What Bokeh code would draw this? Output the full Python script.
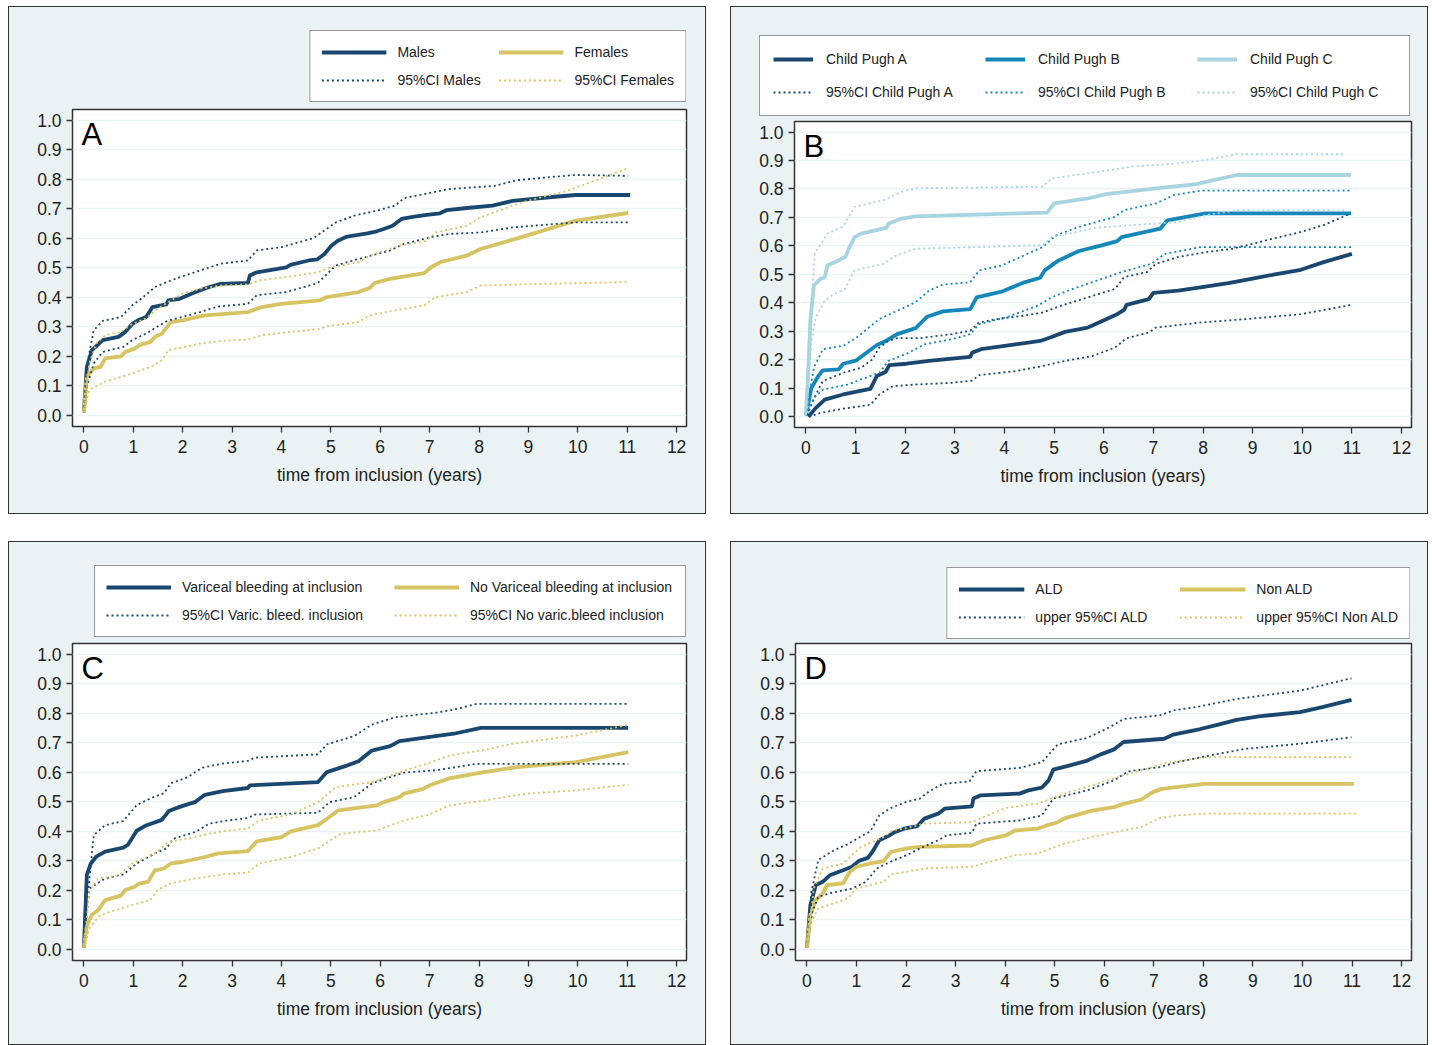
from bokeh.plotting import figure
from bokeh.models import Legend, LegendItem, FixedTicker, Range1d, Label, NumeralTickFormatter
from bokeh.layouts import row, column
from bokeh.embed import file_html
from bokeh.resources import INLINE

# ---------------- data ----------------
x_ticks = [0, 1, 2, 3, 4, 5, 6, 7, 8, 9, 10, 11, 12]
y_ticks = [0.0, 0.1, 0.2, 0.3, 0.4, 0.5, 0.6, 0.7, 0.8, 0.9, 1.0]
x_title = "time from inclusion (years)"

# Panel A
a_males_t = [0, 0.06, 0.16, 0.38, 0.7, 0.84, 0.98, 1.12, 1.26, 1.39, 1.67, 1.71, 1.94, 2.26, 2.54, 2.77, 3.32, 3.36, 3.5, 4.1, 4.18, 4.55, 4.73, 4.87, 5.01, 5.14, 5.33, 5.74, 5.93, 6.07, 6.25, 6.43, 6.66, 6.94, 7.21, 7.35, 7.76, 8.27, 8.68, 9.14, 9.6, 9.96, 11.06]
a_males_v = [0.01, 0.164, 0.22, 0.255, 0.266, 0.283, 0.31, 0.324, 0.333, 0.367, 0.376, 0.39, 0.395, 0.418, 0.435, 0.446, 0.449, 0.474, 0.485, 0.502, 0.51, 0.525, 0.529, 0.547, 0.575, 0.592, 0.606, 0.617, 0.624, 0.632, 0.643, 0.666, 0.673, 0.68, 0.685, 0.696, 0.703, 0.711, 0.727, 0.735, 0.742, 0.747, 0.747]
a_males_hi_t = [0, 0.05, 0.2, 0.38, 0.75, 0.98, 1.16, 1.44, 1.71, 1.99, 2.35, 2.77, 3.32, 3.5, 4.0, 4.65, 5.1, 5.47, 5.93, 6.3, 6.48, 6.94, 7.39, 8.31, 8.77, 9.32, 9.96, 11.02]
a_males_hi_v = [0.01, 0.16, 0.288, 0.32, 0.333, 0.373, 0.395, 0.435, 0.454, 0.471, 0.491, 0.514, 0.525, 0.559, 0.57, 0.601, 0.654, 0.677, 0.694, 0.711, 0.736, 0.752, 0.767, 0.778, 0.797, 0.806, 0.815, 0.812]
a_males_lo_t = [0, 0.06, 0.2, 0.38, 0.8, 0.98, 1.26, 1.53, 1.71, 1.99, 2.35, 2.72, 3.32, 3.5, 4.1, 4.73, 5.1, 5.56, 6.2, 6.48, 7.03, 7.39, 8.03, 8.68, 9.32, 9.96, 11.02]
a_males_lo_v = [0.01, 0.097, 0.176, 0.215, 0.232, 0.255, 0.277, 0.305, 0.322, 0.333, 0.35, 0.369, 0.378, 0.407, 0.418, 0.448, 0.508, 0.53, 0.559, 0.581, 0.604, 0.615, 0.62, 0.637, 0.646, 0.654, 0.654]
a_fem_t = [0, 0.06, 0.2, 0.34, 0.43, 0.75, 0.84, 1.03, 1.12, 1.35, 1.44, 1.58, 1.76, 1.99, 2.45, 3.32, 3.6, 4.0, 4.78, 4.92, 5.56, 5.79, 5.88, 6.2, 6.89, 7.03, 7.21, 7.76, 8.03, 8.86, 9.96, 11.02]
a_fem_v = [0.01, 0.13, 0.159, 0.164, 0.193, 0.2, 0.215, 0.226, 0.238, 0.249, 0.266, 0.277, 0.316, 0.322, 0.339, 0.35, 0.367, 0.378, 0.39, 0.401, 0.418, 0.432, 0.448, 0.463, 0.482, 0.502, 0.519, 0.542, 0.564, 0.604, 0.66, 0.686]
a_fem_hi_t = [0, 0.11, 0.25, 0.43, 0.75, 0.98, 1.26, 1.49, 1.71, 1.99, 2.35, 2.77, 3.32, 3.55, 4.18, 4.73, 5.01, 5.56, 5.79, 6.39, 6.94, 7.12, 7.76, 8.03, 8.86, 9.78, 11.02]
a_fem_hi_v = [0.01, 0.176, 0.243, 0.271, 0.283, 0.31, 0.328, 0.361, 0.384, 0.412, 0.429, 0.44, 0.444, 0.457, 0.471, 0.485, 0.502, 0.519, 0.542, 0.575, 0.592, 0.62, 0.643, 0.671, 0.722, 0.761, 0.838]
a_fem_lo_t = [0, 0.11, 0.29, 0.43, 0.98, 1.35, 1.58, 1.71, 1.99, 2.35, 2.77, 3.32, 3.6, 4.18, 4.73, 4.92, 5.56, 5.79, 6.11, 6.89, 7.12, 7.76, 8.03, 8.86, 9.96, 11.02]
a_fem_lo_v = [0.01, 0.086, 0.102, 0.114, 0.142, 0.164, 0.187, 0.221, 0.23, 0.243, 0.252, 0.257, 0.271, 0.283, 0.291, 0.302, 0.316, 0.339, 0.35, 0.373, 0.401, 0.418, 0.44, 0.444, 0.448, 0.452]

# Panel B
b_a_t = [0.05, 0.2, 0.38, 0.75, 1.07, 1.3, 1.43, 1.61, 1.68, 2.03, 2.48, 2.94, 3.31, 3.35, 3.53, 4.22, 4.72, 4.95, 5.22, 5.68, 5.96, 6.27, 6.41, 6.46, 6.91, 7.0, 7.5, 8.05, 8.51, 8.97, 9.42, 9.97, 10.43, 11.0]
b_a_v = [0.0, 0.031, 0.06, 0.078, 0.09, 0.098, 0.143, 0.158, 0.181, 0.186, 0.196, 0.204, 0.21, 0.225, 0.237, 0.254, 0.266, 0.28, 0.298, 0.313, 0.335, 0.36, 0.375, 0.393, 0.413, 0.435, 0.443, 0.457, 0.469, 0.484, 0.499, 0.516, 0.543, 0.572]
b_a_hi_t = [0.02, 0.2, 0.34, 0.75, 1.11, 1.34, 1.48, 1.66, 1.84, 2.3, 2.94, 3.31, 3.49, 3.85, 4.4, 4.77, 5.14, 5.68, 6.23, 6.41, 6.87, 7.05, 7.5, 8.05, 8.6, 9.33, 9.97, 10.43, 10.98]
b_a_hi_v = [0.005, 0.078, 0.125, 0.154, 0.172, 0.201, 0.243, 0.266, 0.276, 0.276, 0.29, 0.302, 0.331, 0.343, 0.355, 0.366, 0.39, 0.419, 0.449, 0.49, 0.508, 0.537, 0.561, 0.578, 0.59, 0.622, 0.649, 0.673, 0.714]
b_a_lo_t = [0.06, 0.29, 0.75, 1.3, 1.48, 1.75, 2.21, 2.94, 3.35, 3.49, 4.22, 4.77, 5.22, 5.77, 6.23, 6.46, 6.91, 7.05, 7.96, 8.88, 9.97, 11.0]
b_a_lo_v = [0.0, 0.013, 0.028, 0.042, 0.078, 0.107, 0.113, 0.119, 0.127, 0.146, 0.16, 0.178, 0.196, 0.213, 0.243, 0.276, 0.296, 0.313, 0.331, 0.343, 0.36, 0.393]
b_b_t = [0.0, 0.11, 0.25, 0.34, 0.66, 0.75, 1.02, 1.16, 1.43, 1.61, 1.84, 2.21, 2.44, 2.76, 3.31, 3.44, 3.94, 4.4, 4.72, 4.81, 5.09, 5.5, 5.96, 6.27, 6.36, 7.14, 7.28, 8.05, 10.98]
b_b_v = [0.005, 0.101, 0.143, 0.163, 0.166, 0.186, 0.198, 0.217, 0.252, 0.266, 0.29, 0.311, 0.351, 0.37, 0.378, 0.419, 0.439, 0.472, 0.488, 0.514, 0.549, 0.582, 0.602, 0.617, 0.631, 0.661, 0.69, 0.714, 0.714]
b_b_hi_t = [0.0, 0.16, 0.34, 0.75, 1.02, 1.48, 1.84, 2.21, 2.48, 2.76, 3.31, 3.49, 3.94, 4.4, 4.77, 5.04, 5.5, 6.23, 6.41, 7.05, 7.42, 7.96, 10.98]
b_b_hi_v = [0.005, 0.172, 0.237, 0.249, 0.278, 0.343, 0.372, 0.402, 0.443, 0.464, 0.472, 0.514, 0.531, 0.567, 0.596, 0.637, 0.667, 0.702, 0.726, 0.749, 0.779, 0.794, 0.794]
b_b_lo_t = [0.0, 0.16, 0.34, 0.84, 1.11, 1.48, 1.66, 2.03, 2.39, 2.94, 3.31, 3.49, 4.04, 4.67, 4.95, 5.31, 5.96, 6.36, 6.96, 7.23, 7.96, 10.98]
b_b_lo_v = [0.005, 0.066, 0.095, 0.113, 0.131, 0.154, 0.196, 0.221, 0.254, 0.272, 0.29, 0.325, 0.349, 0.39, 0.419, 0.445, 0.484, 0.508, 0.537, 0.572, 0.596, 0.596]
b_c_t = [0.0, 0.05, 0.09, 0.16, 0.29, 0.38, 0.43, 0.66, 0.79, 0.88, 0.98, 1.11, 1.62, 1.66, 1.93, 2.21, 4.86, 5.0, 5.68, 6.05, 7.05, 7.87, 8.23, 8.69, 10.98]
b_c_v = [0.005, 0.172, 0.337, 0.461, 0.484, 0.49, 0.531, 0.549, 0.561, 0.596, 0.631, 0.643, 0.663, 0.678, 0.696, 0.704, 0.717, 0.749, 0.767, 0.782, 0.802, 0.817, 0.832, 0.849, 0.849]
b_c_hi_t = [0.0, 0.05, 0.11, 0.18, 0.43, 0.75, 0.98, 1.57, 1.93, 2.21, 4.77, 4.95, 5.68, 6.59, 7.5, 8.05, 8.69, 10.84]
b_c_hi_v = [0.005, 0.231, 0.408, 0.572, 0.643, 0.667, 0.737, 0.761, 0.79, 0.802, 0.808, 0.837, 0.855, 0.879, 0.89, 0.902, 0.922, 0.922]
b_c_lo_t = [0.0, 0.05, 0.11, 0.2, 0.38, 0.57, 0.79, 0.98, 1.57, 1.75, 2.21, 4.77, 4.95, 5.86, 7.5, 8.05, 8.69, 10.84]
b_c_lo_v = [0.005, 0.113, 0.266, 0.349, 0.408, 0.431, 0.449, 0.514, 0.537, 0.561, 0.59, 0.602, 0.631, 0.664, 0.684, 0.708, 0.725, 0.725]

# Panel C
c_v_t = [0, 0.06, 0.14, 0.25, 0.43, 0.8, 0.89, 1.07, 1.26, 1.58, 1.72, 1.94, 2.26, 2.45, 2.81, 3.32, 3.36, 4.74, 4.92, 5.29, 5.56, 5.83, 6.2, 6.39, 7.12, 7.49, 8.04, 11.02]
c_v_v = [0.005, 0.252, 0.291, 0.314, 0.331, 0.345, 0.354, 0.402, 0.42, 0.439, 0.469, 0.483, 0.5, 0.524, 0.536, 0.547, 0.556, 0.567, 0.601, 0.621, 0.638, 0.674, 0.689, 0.706, 0.723, 0.731, 0.751, 0.751]
c_v_hi_t = [0, 0.08, 0.2, 0.43, 0.8, 1.07, 1.35, 1.62, 1.76, 2.08, 2.4, 2.81, 3.32, 3.46, 4.74, 4.92, 5.47, 5.83, 6.3, 7.12, 7.49, 7.95, 11.02]
c_v_hi_v = [0.005, 0.184, 0.387, 0.421, 0.435, 0.489, 0.512, 0.529, 0.563, 0.582, 0.616, 0.63, 0.639, 0.65, 0.661, 0.695, 0.723, 0.762, 0.787, 0.802, 0.813, 0.832, 0.832]
c_v_lo_t = [0, 0.11, 0.43, 0.8, 1.07, 1.44, 1.67, 1.81, 2.26, 2.54, 2.91, 3.32, 3.46, 4.74, 4.97, 5.47, 5.83, 6.2, 6.48, 7.12, 7.95, 11.02]
c_v_lo_v = [0.005, 0.206, 0.24, 0.254, 0.291, 0.325, 0.342, 0.375, 0.398, 0.426, 0.437, 0.445, 0.457, 0.463, 0.499, 0.516, 0.562, 0.584, 0.599, 0.607, 0.629, 0.629]
c_n_t = [0, 0.06, 0.16, 0.29, 0.43, 0.75, 0.84, 1.03, 1.12, 1.3, 1.44, 1.62, 1.76, 1.99, 2.45, 2.72, 3.32, 3.5, 4.0, 4.19, 4.74, 4.92, 5.15, 5.93, 6.07, 6.39, 6.48, 6.85, 7.03, 7.4, 8.04, 8.77, 9.96, 11.02]
c_n_v = [0.005, 0.079, 0.116, 0.133, 0.167, 0.182, 0.201, 0.212, 0.223, 0.229, 0.268, 0.274, 0.291, 0.296, 0.313, 0.325, 0.333, 0.366, 0.38, 0.4, 0.421, 0.443, 0.471, 0.488, 0.499, 0.516, 0.528, 0.543, 0.558, 0.58, 0.599, 0.618, 0.635, 0.669]
c_n_hi_t = [0, 0.11, 0.29, 0.71, 0.98, 1.44, 1.71, 2.08, 2.54, 2.81, 3.32, 3.55, 4.19, 4.74, 5.1, 5.83, 6.39, 6.94, 7.4, 8.04, 8.68, 9.96, 11.02]
c_n_hi_v = [0.005, 0.195, 0.24, 0.251, 0.291, 0.325, 0.364, 0.375, 0.392, 0.4, 0.409, 0.437, 0.457, 0.499, 0.55, 0.567, 0.601, 0.629, 0.657, 0.674, 0.697, 0.725, 0.761]
c_n_lo_t = [0, 0.11, 0.29, 0.52, 0.98, 1.35, 1.49, 1.76, 2.26, 2.81, 3.32, 3.55, 4.19, 4.74, 5.2, 5.93, 6.48, 6.94, 7.4, 8.04, 8.96, 9.96, 11.02]
c_n_lo_v = [0.005, 0.07, 0.11, 0.127, 0.15, 0.167, 0.201, 0.224, 0.24, 0.254, 0.26, 0.291, 0.313, 0.342, 0.392, 0.403, 0.437, 0.454, 0.488, 0.503, 0.528, 0.539, 0.558]

# Panel D
d_a_t = [0, 0.07, 0.18, 0.32, 0.46, 0.73, 0.91, 1.05, 1.23, 1.32, 1.46, 1.64, 1.78, 1.96, 2.23, 2.37, 2.65, 2.78, 3.33, 3.36, 3.51, 4.29, 4.47, 4.74, 4.88, 4.97, 5.29, 5.66, 5.93, 6.2, 6.39, 7.21, 7.39, 7.94, 8.3, 8.67, 9.12, 9.95, 10.4, 10.99]
d_a_v = [0.005, 0.15, 0.218, 0.229, 0.251, 0.268, 0.28, 0.3, 0.31, 0.33, 0.37, 0.384, 0.398, 0.409, 0.418, 0.443, 0.46, 0.477, 0.485, 0.511, 0.522, 0.528, 0.539, 0.548, 0.573, 0.609, 0.623, 0.64, 0.661, 0.678, 0.703, 0.714, 0.728, 0.747, 0.762, 0.778, 0.79, 0.804, 0.821, 0.846]
d_a_hi_t = [0, 0.09, 0.23, 0.55, 0.82, 1.09, 1.28, 1.46, 1.69, 2.01, 2.28, 2.46, 2.74, 3.28, 3.42, 4.29, 4.74, 5.06, 5.66, 6.11, 6.39, 7.12, 7.39, 7.94, 8.67, 9.95, 10.99]
d_a_hi_v = [0.005, 0.195, 0.303, 0.336, 0.356, 0.383, 0.4, 0.454, 0.479, 0.5, 0.511, 0.535, 0.561, 0.569, 0.604, 0.615, 0.634, 0.695, 0.717, 0.753, 0.781, 0.793, 0.81, 0.824, 0.849, 0.877, 0.919]
d_a_lo_t = [0, 0.11, 0.23, 0.46, 0.91, 1.19, 1.41, 1.69, 2.01, 2.28, 2.65, 2.83, 3.33, 3.42, 4.29, 4.74, 4.97, 5.66, 6.2, 6.48, 7.12, 7.48, 8.12, 8.85, 9.95, 10.99]
d_a_lo_v = [0.005, 0.127, 0.178, 0.19, 0.206, 0.229, 0.274, 0.297, 0.319, 0.342, 0.37, 0.387, 0.395, 0.426, 0.437, 0.454, 0.511, 0.539, 0.573, 0.603, 0.618, 0.635, 0.657, 0.68, 0.697, 0.719]
d_n_t = [0, 0.07, 0.18, 0.32, 0.41, 0.73, 0.87, 1.0, 1.28, 1.55, 1.69, 2.01, 2.28, 3.33, 3.56, 4.01, 4.2, 4.65, 4.84, 5.06, 5.2, 5.75, 6.2, 6.39, 6.75, 6.98, 7.16, 8.03, 11.04]
d_n_v = [0.005, 0.116, 0.167, 0.19, 0.218, 0.224, 0.263, 0.28, 0.291, 0.299, 0.33, 0.342, 0.347, 0.352, 0.369, 0.386, 0.403, 0.409, 0.42, 0.431, 0.444, 0.47, 0.482, 0.493, 0.508, 0.533, 0.544, 0.561, 0.561]
d_n_hi_t = [0, 0.14, 0.32, 0.73, 0.91, 1.09, 1.55, 1.73, 2.01, 2.37, 3.33, 3.56, 4.01, 4.65, 4.84, 5.29, 5.75, 6.39, 6.98, 7.21, 8.03, 10.99]
d_n_hi_v = [0.005, 0.206, 0.274, 0.291, 0.319, 0.347, 0.381, 0.403, 0.411, 0.426, 0.431, 0.448, 0.479, 0.494, 0.505, 0.533, 0.556, 0.59, 0.618, 0.631, 0.652, 0.652]
d_n_lo_t = [0, 0.09, 0.23, 0.55, 0.82, 1.0, 1.55, 1.69, 2.01, 2.37, 3.33, 3.56, 4.2, 4.65, 5.2, 5.75, 6.39, 6.75, 7.12, 7.48, 8.03, 11.08]
d_n_lo_v = [0.005, 0.094, 0.139, 0.156, 0.172, 0.206, 0.229, 0.254, 0.263, 0.274, 0.28, 0.291, 0.319, 0.325, 0.358, 0.381, 0.403, 0.415, 0.445, 0.454, 0.46, 0.46]

# ---------------- styling ----------------
NAVY = "#1a476f"
GOLD = "#d8c363"
CPB = "#1687b9"
CPC = "#a8d4e2"
BG = "#eaf2f3"
DARK = "#333333"
FONT = "Liberation Sans"
SOLID_W = 3.8
DOT_W = 1.8
DOT_DASH = "2 3"
INNER_W = 696


def legend_figure(height, right_gap, bottom_gap, solids, dotted, ncols,
                  glyph_w, standoff, label_w, spacing, padding):
    # legend strip above the plot; its series lie outside this strip's y view,
    # it only carries the legend keys
    lf = figure(width=INNER_W, height=height, output_backend="svg", toolbar_location=None,
                x_axis_type=None, y_axis_type=None,
                x_range=Range1d(-0.23, 12.2), y_range=Range1d(2.0, 3.0),
                min_border_left=0, min_border_top=0,
                min_border_right=right_gap, min_border_bottom=bottom_gap)
    lf.background_fill_color = BG
    lf.border_fill_color = BG
    lf.outline_line_color = None
    lf.grid.visible = False
    items_s, items_d = [], []
    for (lab, t, v, col) in solids:
        r = lf.line(t, v, line_color=col, line_width=SOLID_W)
        items_s.append(LegendItem(label=lab, renderers=[r]))
    for (lab, t, v, col) in dotted:
        r = lf.line(t, v, line_color=col, line_width=DOT_W, line_dash=DOT_DASH)
        items_d.append(LegendItem(label=lab, renderers=[r]))
    legend = Legend(items=items_s + items_d, orientation="horizontal", ncols=ncols,
                    location="bottom_right", margin=0, padding=padding, spacing=spacing,
                    glyph_width=glyph_w, glyph_height=20, label_height=20,
                    label_width=label_w, label_standoff=standoff,
                    label_text_font=FONT, label_text_font_size="14px",
                    label_text_color="#222222", label_text_baseline="middle",
                    border_line_color=DARK, border_line_width=1.3,
                    background_fill_color="white", background_fill_alpha=1.0)
    lf.add_layout(legend, "center")
    return lf


def main_figure(letter, solids, dotted, height, b_left, b_right, b_top, b_bottom):
    p = figure(width=INNER_W, height=height, output_backend="svg", toolbar_location=None,
               x_range=Range1d(-0.23, 12.2), y_range=Range1d(-0.038, 1.037),
               min_border_left=b_left, min_border_right=b_right,
               min_border_top=b_top, min_border_bottom=b_bottom)
    p.background_fill_color = "white"
    p.border_fill_color = BG
    p.outline_line_color = DARK
    p.outline_line_width = 1.5

    p.xgrid.visible = False
    p.ygrid.grid_line_color = BG
    p.ygrid.grid_line_width = 1.5
    p.ygrid.ticker = FixedTicker(ticks=y_ticks)

    p.xaxis.ticker = FixedTicker(ticks=x_ticks)
    p.yaxis.ticker = FixedTicker(ticks=y_ticks)
    p.yaxis.formatter = NumeralTickFormatter(format="0.0")
    for ax in (p.xaxis[0], p.yaxis[0]):
        ax.axis_line_color = None
        ax.major_tick_line_color = DARK
        ax.major_tick_line_width = 1.3
        ax.major_tick_out = 6
        ax.major_tick_in = 0
        ax.minor_tick_line_color = None
        ax.major_label_text_font = FONT
        ax.major_label_text_font_size = "17.5px"
        ax.major_label_text_color = "#222222"
    p.yaxis.major_label_standoff = 5
    p.xaxis.major_label_standoff = 7
    p.xaxis.axis_label = x_title
    p.xaxis.axis_label_text_font = FONT
    p.xaxis.axis_label_text_font_size = "17.5px"
    p.xaxis.axis_label_text_font_style = "normal"
    p.xaxis.axis_label_text_color = "#222222"
    p.xaxis.axis_label_standoff = 9

    for (t, v, col) in solids:
        p.line(t, v, line_color=col, line_width=SOLID_W, line_join="round")
    for (lo_t, lo_v, hi_t, hi_v, col) in dotted:
        p.line(hi_t, hi_v, line_color=col, line_width=DOT_W, line_dash=DOT_DASH)
        p.line(lo_t, lo_v, line_color=col, line_width=DOT_W, line_dash=DOT_DASH)

    p.add_layout(Label(x=-0.23, y=1.037, x_offset=9, y_offset=-7, text=letter,
                       text_font=FONT, text_font_size="31px", text_color="black",
                       text_baseline="top", text_align="left"))
    return p


def panel(lf, p):
    return column(row(lf), p, spacing=0,
                  styles={"border": "1px solid #333333", "background-color": BG})


# ---- A ----
lfA = legend_figure(99, 19, 4,
                    [("Males", a_males_t, a_males_v, NAVY), ("Females", a_fem_t, a_fem_v, GOLD)],
                    [("95%CI Males", a_males_hi_t, a_males_hi_v, NAVY),
                     ("95%CI Females", a_fem_hi_t, a_fem_hi_v, GOLD)],
                    2, 65, 11, 93, 8, 11)
pA = main_figure("A",
                 [(a_males_t, a_males_v, NAVY), (a_fem_t, a_fem_v, GOLD)],
                 [(a_males_lo_t, a_males_lo_v, a_males_hi_t, a_males_hi_v, NAVY),
                  (a_fem_lo_t, a_fem_lo_v, a_fem_hi_t, a_fem_hi_v, GOLD)],
                 407, 63, 19, 3, 87)

# ---- B ----
lfB = legend_figure(111, 17, 2,
                    [("Child Pugh A", b_a_t, b_a_v, NAVY), ("Child Pugh B", b_b_t, b_b_v, CPB),
                     ("Child Pugh C", b_c_t, b_c_v, CPC)],
                    [("95%CI Child Pugh A", b_a_hi_t, b_a_hi_v, NAVY),
                     ("95%CI Child Pugh B", b_b_hi_t, b_b_hi_v, CPB),
                     ("95%CI Child Pugh C", b_c_hi_t, b_c_hi_v, CPC)],
                    3, 40, 13, 146, 13, 13)
pB = main_figure("B",
                 [(b_a_t, b_a_v, NAVY), (b_b_t, b_b_v, CPB), (b_c_t, b_c_v, CPC)],
                 [(b_a_lo_t, b_a_lo_v, b_a_hi_t, b_a_hi_v, NAVY),
                  (b_b_lo_t, b_b_lo_v, b_b_hi_t, b_b_hi_v, CPB),
                  (b_c_lo_t, b_c_lo_v, b_c_hi_t, b_c_hi_v, CPC)],
                 395, 63, 16, 3, 86)

# ---- C ----
lfC = legend_figure(98, 19, 3,
                    [("Variceal bleeding at inclusion", c_v_t, c_v_v, NAVY),
                     ("No Variceal bleeding at inclusion", c_n_t, c_n_v, GOLD)],
                    [("95%CI Varic. bleed. inclusion", c_v_hi_t, c_v_hi_v, NAVY),
                     ("95%CI No varic.bleed inclusion", c_n_hi_t, c_n_hi_v, GOLD)],
                    2, 65, 11, 204, 8, 11)
pC = main_figure("C",
                 [(c_v_t, c_v_v, NAVY), (c_n_t, c_n_v, GOLD)],
                 [(c_v_lo_t, c_v_lo_v, c_v_hi_t, c_v_hi_v, NAVY),
                  (c_n_lo_t, c_n_lo_v, c_n_hi_t, c_n_hi_v, GOLD)],
                 404, 63, 19, 3, 84)

# ---- D ----
lfD = legend_figure(98, 17, 1,
                    [("ALD", d_a_t, d_a_v, NAVY), ("Non ALD", d_n_t, d_n_v, GOLD)],
                    [("upper 95%CI ALD", d_a_hi_t, d_a_hi_v, NAVY),
                     ("upper 95%CI Non ALD", d_n_hi_t, d_n_hi_v, GOLD)],
                    2, 66, 11, 136, 8, 11)
pD = main_figure("D",
                 [(d_a_t, d_a_v, NAVY), (d_n_t, d_n_v, GOLD)],
                 [(d_a_lo_t, d_a_lo_v, d_a_hi_t, d_a_hi_v, NAVY),
                  (d_n_lo_t, d_n_lo_v, d_n_hi_t, d_n_hi_v, GOLD)],
                 404, 64, 16, 3, 84)

layout = column(row(panel(lfA, pA), panel(lfB, pB), spacing=24),
                row(panel(lfC, pC), panel(lfD, pD), spacing=24),
                spacing=27, margin=(6, 0, 0, 8))

open("out.html", "w").write(file_html(layout, INLINE))
